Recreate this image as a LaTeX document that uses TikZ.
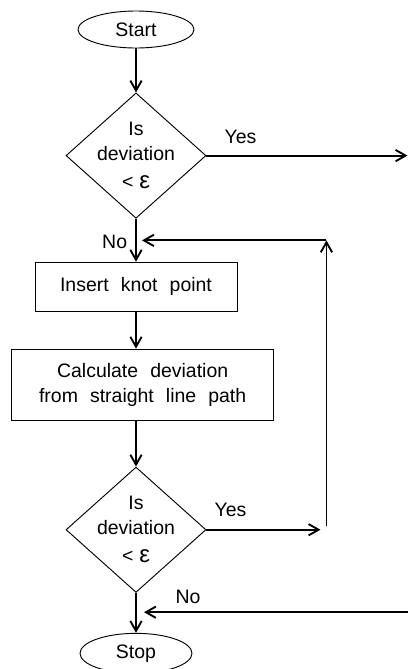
\documentclass[tikz,border=0pt]{standalone}
\usepackage{fontspec}
\setmainfont{Liberation Sans}
\usepackage{tikz}
\usetikzlibrary{arrows.meta, positioning, shapes.geometric}
\newcommand{\flowfont}{\fontsize{14.6}{18.75}\selectfont\spaceskip=0.62em\relax}
\newcommand{\eps}{{\fontsize{18}{18.75}\selectfont ε}}

\begin{document}
\begin{tikzpicture}[
        x=0.75pt, y=-0.75pt,
        >={Straight Barb[length=7.5pt,width=8.5pt]},
        every node/.style={font=\flowfont},
        terminal/.style={draw, ellipse, line width=0.7pt, inner sep=0pt, minimum width=87pt, minimum height=27.75pt},
        decision/.style={draw, diamond, aspect=1.12, line width=0.7pt, inner sep=-6pt, minimum width=105pt, minimum height=94pt, align=center},
        process/.style={draw, rectangle, line width=0.7pt, inner sep=0pt, align=center},
        lbl/.style={inner sep=0pt},
        flow/.style={->, line width=1.4pt}
    ]
        \useasboundingbox (0,0) rectangle (408,669);

        \node[terminal] (start) at (136,29.5) {Start};
        \node[decision, below=33pt of start] (test1) {Is\\deviation\\[2pt]<\hspace{0.3em}\eps};
        \node[process, minimum width=151.5pt, minimum height=36.75pt, below=32.25pt of test1] (knot) {Insert knot point};
        \node[process, minimum width=196.5pt, minimum height=53.25pt, below=27.75pt of knot, xshift=5pt] (calc) {Calculate deviation\\from straight line path};
        \node[decision, below=34.5pt of calc, xshift=-5pt] (test2) {Is\\deviation\\[2pt]<\hspace{0.3em}\eps};
        \node[terminal, minimum width=84pt, minimum height=30pt, below=30pt of test2] (stop) {Stop};

        \node[lbl] (yes1) at ([xshift=25.5pt, yshift=14.25pt]test1.east) {Yes};
        \node[lbl] (no1) at ([xshift=-16pt, yshift=15pt]knot.north) {No};
        \node[lbl] (yes2) at ([xshift=18pt, yshift=15pt]test2.east) {Yes};
        \node[lbl] (no2) at ([xshift=39pt, yshift=26.7pt]stop.north) {No};

        % loose ends of the connectors
        \coordinate (rim) at (407.5,0);
        \coordinate (yesout) at (test1.east -| rim);
        \coordinate (entry) at ([xshift=4.5pt, yshift=16pt]knot.north);
        \coordinate (yes2end) at ([xshift=85.5pt]test2.east);
        \coordinate (loopbot) at ([xshift=90pt, yshift=2.6pt]test2.east);
        \coordinate (looptop) at (loopbot |- entry);
        \coordinate (exit) at ([xshift=6pt, yshift=15.5pt]stop.north);
        \coordinate (noin) at (exit -| rim);

        \draw[flow] (start) -- (test1);
        \draw[flow] (test1) -- (knot);
        \draw[flow] (knot) -- (calc.north -| knot);
        \draw[flow] (calc.south -| test2) -- (test2);
        \draw[flow] (test2) -- (stop);
        \draw[flow] (test1) -- (yesout);
        \draw[flow] (test2) -- (yes2end);
        \draw[flow] (loopbot) -- (looptop);
        \draw[flow] (looptop) -- (entry);
        \draw[flow] (noin) -- (exit);
    \end{tikzpicture}
\end{document}
